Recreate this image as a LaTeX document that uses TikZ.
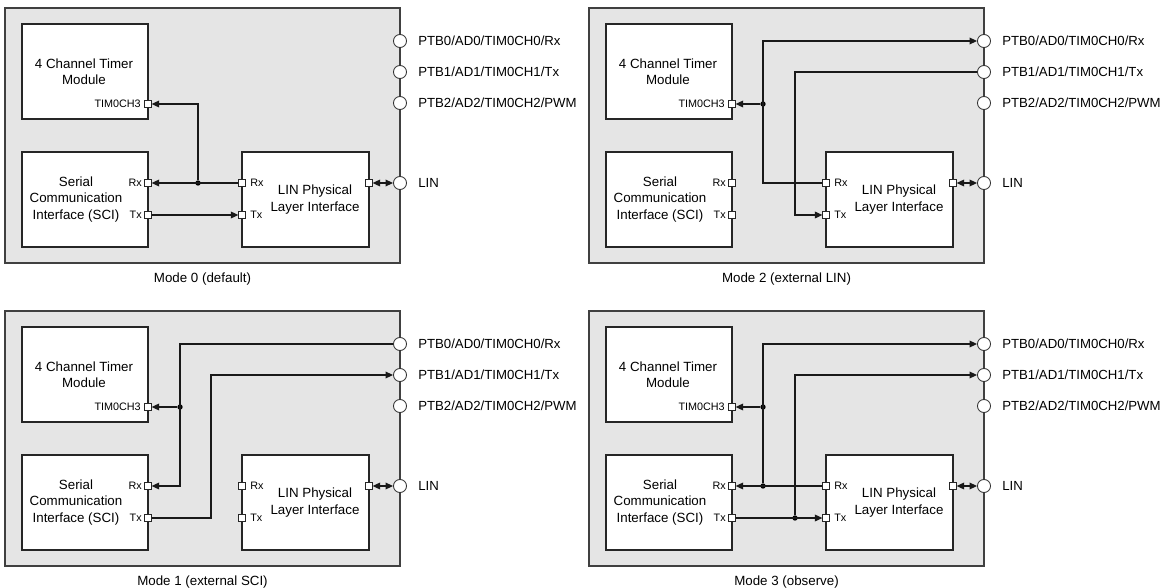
\documentclass[tikz,border=0pt]{standalone}
\usepackage{fontspec}
\setmainfont{Liberation Sans}
\usetikzlibrary{arrows.meta}
\newcommand\modepanel[2]{%
  \node[panel] (#1-p) at (202.5,135.5) {};
  \node[block, minimum width=126*0.75pt, minimum height=95*0.75pt] (#1-tim) at (85,71.5) {};
  \node[btext] (#1-timt) at (84,71.5) {4 Channel Timer\\Module};
  \node[block, minimum width=126*0.75pt, minimum height=95*0.75pt] (#1-sci) at (85,199.5) {};
  \node[btext] (#1-scit) at (76,199.5) {Serial\\Communication\\Interface (SCI)};
  \node[block, minimum width=127*0.75pt, minimum height=95*0.75pt] (#1-lin) at (305.5,199.5) {};
  \node[btext] (#1-lint) at (315,199.5) {LIN Physical\\Layer Interface};
  \node[pinsq] (#1-tch) at (148,104) {};
  \node[ptext, anchor=east] (#1-tchl) at (141,104) {TIM0CH3};
  \node[pinsq] (#1-srx) at (148,183) {};
  \node[ptext, anchor=east] (#1-srxl) at (142,183) {Rx};
  \node[pinsq] (#1-stx) at (148,215) {};
  \node[ptext, anchor=east] (#1-stxl) at (142,215) {Tx};
  \node[pinsq] (#1-lrx) at (242,183) {};
  \node[ptext, anchor=west] (#1-lrxl) at (250,183) {Rx};
  \node[pinsq] (#1-ltx) at (242,215) {};
  \node[ptext, anchor=west] (#1-ltxl) at (250,215) {Tx};
  \node[pinsq] (#1-lout) at (369,183) {};
  \node[extpin] (#1-c0) at (400,41) {};
  \node[extpin] (#1-c1) at (400,72) {};
  \node[extpin] (#1-c2) at (400,103) {};
  \node[extpin] (#1-c3) at (400,183) {};
  \node[ltext] (#1-c0l) at (418,41) {PTB0/AD0/TIM0CH0/Rx};
  \node[ltext] (#1-c1l) at (418,72) {PTB1/AD1/TIM0CH1/Tx};
  \node[ltext] (#1-c2l) at (418,103) {PTB2/AD2/TIM0CH2/PWM};
  \node[ltext] (#1-c3l) at (418,183) {LIN};
  \node[capt] (#1-cap) at (202.5,279) {#2};
  \draw[darr] (#1-lout.east) -- (#1-c3.west);
}
\begin{document}
\begin{tikzpicture}[x=0.75pt,y=-0.75pt,
  panel/.style={draw=black!75, fill=black!10, line width=0.85pt, minimum width=395*0.75pt, minimum height=255*0.75pt, inner sep=0},
  block/.style={draw=black!85, fill=white, line width=0.85pt, inner sep=0},
  pinsq/.style={draw=black!85, fill=white, line width=0.65pt, minimum size=4.8pt, inner sep=0},
  extpin/.style={circle, draw=black!80, fill=white, line width=0.65pt, minimum size=9.8pt, inner sep=0},
  btext/.style={font=\fontsize{10}{12.2}\selectfont, align=center, inner sep=0},
  ptext/.style={font=\fontsize{8.1}{9}\selectfont, inner sep=0},
  ltext/.style={font=\fontsize{9.9}{12}\selectfont, anchor=west, inner sep=0},
  capt/.style={font=\fontsize{10}{12}\selectfont, inner sep=0},
  conn/.style={draw=black!90, line width=0.9pt},
  arr/.style={conn, -{Triangle[length=5.6pt,width=5pt]}},
  darr/.style={conn, {Triangle[length=5.6pt,width=5pt]}-{Triangle[length=5.6pt,width=5pt]}},
  jdot/.style={circle, fill=black, minimum size=4pt, inner sep=0}
]
\useasboundingbox (0,0) rectangle (1164,588);

% Mode 0
\begin{scope}
  \modepanel{a}{Mode 0 (default)}
  \node[jdot] (a-j) at (198,183) {};
  \draw[arr] (a-lrx.west) -- (a-srx.east);
  \draw[arr] (a-j) |- (a-tch.east);
  \draw[arr] (a-stx.east) -- (a-ltx.west);
\end{scope}

% Mode 2
\begin{scope}[shift={(584,0)}]
  \modepanel{b}{Mode 2 (external LIN)}
  \coordinate (b-k) at (179,41);
  \node[jdot] (b-j) at (179,104) {};
  \draw[arr] (b-lrx.west) -| (b-k) -- (b-c0.west);
  \draw[arr] (b-j) -- (b-tch.east);
  \coordinate (b-m) at (211,215);
  \draw[arr] (b-c1.west) -| (b-m) -- (b-ltx.west);
\end{scope}

% Mode 1
\begin{scope}[shift={(0,303)}]
  \modepanel{c}{Mode 1 (external SCI)}
  \coordinate (c-m) at (180,183);
  \node[jdot] (c-j) at (180,104) {};
  \draw[arr] (c-c0.west) -| (c-m) -- (c-srx.east);
  \draw[arr] (c-j) -- (c-tch.east);
  \coordinate (c-n) at (211,72);
  \draw[arr] (c-stx.east) -| (c-n) -- (c-c1.west);
\end{scope}

% Mode 3
\begin{scope}[shift={(584,303)}]
  \modepanel{d}{Mode 3 (observe)}
  \node[jdot] (d-j1) at (179,183) {};
  \node[jdot] (d-j2) at (179,104) {};
  \node[jdot] (d-j3) at (211,215) {};
  \draw[arr] (d-lrx.west) -- (d-srx.east);
  \draw[arr] (d-j1) |- (d-c0.west);
  \draw[arr] (d-j2) -- (d-tch.east);
  \draw[arr] (d-stx.east) -- (d-ltx.west);
  \draw[arr] (d-j3) |- (d-c1.west);
\end{scope}
\end{tikzpicture}
\end{document}
